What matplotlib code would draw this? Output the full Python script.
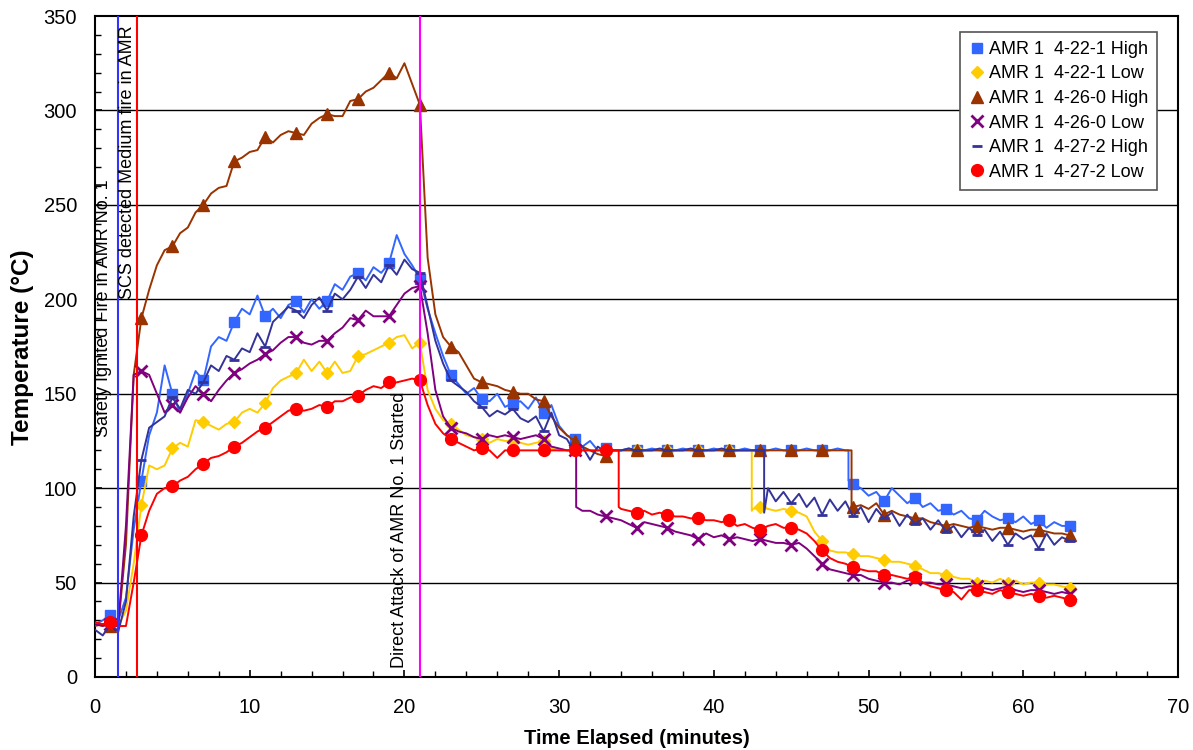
import numpy as np
import matplotlib
matplotlib.use("Agg")
import matplotlib.pyplot as plt
from matplotlib.lines import Line2D

plt.rcParams["font.family"] = ["Liberation Sans", "DejaVu Sans"]

# time axis, readings every half minute (one row = 10 minutes)
time_min = np.arange(0, 63.01, 0.5)

hi_4221 = [28, 30, 33, 30, 42, 78, 104, 128, 140, 165, 150, 140, 150, 162, 157, 175, 180, 178, 188, 195,
           192, 202, 191, 195, 190, 197, 199, 193, 200, 195, 199, 208, 205, 212, 214, 210, 217, 214, 219, 234,
           224, 218, 211, 195, 182, 170, 160, 155, 150, 153, 147, 146, 150, 143, 145, 146, 142, 148, 140, 144,
           133, 128, 126, 122, 125, 120, 121, 120, 120, 121, 120, 120, 121, 120, 120, 120, 121, 120, 120, 120,
           121, 120, 120, 120, 121, 120, 120, 120, 121, 120, 120, 120, 121, 120, 120, 120, 121, 120, 102, 100,
           96, 98, 93, 100, 96, 92, 95, 90, 92, 88, 89, 86, 88, 84, 83, 88, 85, 83, 84, 82,
           85, 81, 83, 79, 82, 80, 80]
lo_4221 = [28, 27, 28, 27, 35, 60, 91, 112, 110, 112, 121, 124, 122, 136, 135, 133, 131, 134, 135, 140,
           142, 140, 145, 153, 157, 159, 161, 168, 162, 167, 161, 167, 161, 162, 170, 171, 173, 175, 177, 180,
           181, 174, 177, 152, 142, 136, 134, 131, 128, 127, 126, 124, 126, 125, 125, 124, 123, 124, 125, 121,
           120, 120, 120, 120, 120, 120, 120, 120, 120, 120, 120, 120, 120, 120, 120, 120, 120, 120, 120, 120,
           120, 120, 120, 120, 120, 89, 90, 89, 88, 89, 88, 87, 85, 77, 72, 67, 66, 66, 65, 64,
           64, 63, 62, 61, 61, 60, 59, 57, 55, 55, 54, 53, 52, 52, 50, 51, 50, 52, 50, 51,
           49, 50, 50, 49, 49, 48, 47]
hi_4260 = [27, 28, 27, 27, 70, 160, 190, 205, 218, 226, 228, 235, 238, 246, 250, 256, 259, 260, 273, 275,
           278, 279, 286, 283, 287, 289, 288, 287, 293, 296, 298, 297, 297, 305, 306, 310, 312, 316, 320, 317,
           325, 314, 303, 222, 192, 180, 175, 172, 165, 158, 156, 155, 154, 152, 151, 150, 150, 147, 146, 138,
           132, 128, 125, 122, 120, 118, 117, 120, 120, 120, 120, 120, 120, 120, 120, 120, 120, 120, 120, 120,
           120, 120, 120, 120, 120, 120, 120, 120, 120, 120, 120, 120, 120, 120, 120, 120, 120, 120, 90, 91,
           89, 92, 86, 88, 86, 85, 84, 84, 82, 81, 80, 81, 80, 79, 80, 79, 78, 79, 79, 78,
           77, 78, 78, 77, 76, 76, 75]
lo_4260 = [28, 27, 28, 27, 80, 160, 162, 160, 150, 140, 144, 140, 148, 154, 150, 146, 152, 157, 161, 163,
           166, 168, 171, 173, 177, 180, 180, 177, 176, 178, 178, 182, 185, 190, 189, 194, 191, 191, 191, 197,
           203, 206, 207, 182, 152, 138, 132, 130, 129, 127, 126, 128, 127, 128, 127, 126, 127, 128, 126, 122,
           121, 120, 120, 88, 88, 86, 85, 84, 83, 81, 79, 82, 81, 80, 79, 77, 76, 75, 73, 76,
           74, 75, 73, 74, 73, 72, 73, 72, 71, 71, 70, 71, 68, 64, 60, 57, 56, 55, 54, 54,
           52, 51, 50, 50, 49, 51, 52, 50, 50, 49, 49, 48, 47, 48, 48, 47, 46, 47, 48, 46,
           45, 46, 46, 45, 44, 45, 44]
hi_4272 = [25, 22, 28, 24, 40, 85, 115, 132, 135, 138, 148, 142, 152, 150, 156, 165, 162, 170, 168, 174,
           172, 182, 175, 188, 192, 196, 194, 190, 197, 201, 194, 203, 200, 205, 212, 206, 213, 209, 218, 213,
           221, 216, 214, 196, 178, 166, 157, 154, 151, 146, 143, 138, 141, 139, 142, 137, 135, 138, 130, 140,
           128, 126, 119, 122, 115, 122, 119, 120, 120, 121, 120, 120, 120, 121, 120, 120, 120, 121, 120, 120,
           120, 121, 120, 120, 120, 120, 120, 100, 93, 98, 92, 97, 90, 95, 86, 94, 88, 93, 85, 90,
           82, 89, 84, 87, 80, 86, 81, 84, 78, 83, 77, 80, 74, 79, 75, 78, 72, 77, 70, 76,
           73, 75, 68, 76, 70, 74, 72]
lo_4272 = [29, 28, 29, 27, 27, 50, 75, 88, 97, 100, 101, 104, 106, 110, 113, 116, 117, 119, 122, 124,
           127, 130, 132, 135, 138, 141, 142, 141, 142, 144, 143, 146, 146, 148, 149, 152, 154, 153, 156, 156,
           157, 158, 157, 144, 134, 129, 126, 124, 122, 120, 121, 120, 116, 120, 120, 120, 120, 120, 120, 120,
           120, 120, 120, 120, 120, 120, 120, 120, 89, 88, 87, 88, 86, 87, 86, 85, 85, 84, 84, 83,
           83, 82, 83, 80, 81, 79, 78, 80, 81, 79, 79, 78, 76, 72, 67, 63, 61, 60, 58, 57,
           56, 56, 54, 54, 53, 52, 53, 50, 48, 47, 46, 45, 41, 46, 46, 45, 44, 46, 45, 44,
           43, 44, 43, 42, 43, 42, 41]

# vertical drops (time, value before, value after)
steps_4221_hi = (48.7, 120, 104)
steps_4221_lo = (42.45, 120, 88)
steps_4260_hi = (48.9, 120, 90)
steps_4260_lo = (31.1, 120, 90)
steps_4272_hi = (43.25, 120, 87)
steps_4272_lo = (33.85, 120, 90)

labels = ["AMR 1  4-22-1 High", "AMR 1  4-22-1 Low", "AMR 1  4-26-0 High",
          "AMR 1  4-26-0 Low", "AMR 1  4-27-2 High", "AMR 1  4-27-2 Low"]
colors = ["#3366FF", "#FFCC00", "#993300", "#800080", "#333399", "#FF0000"]
markers = ["s", "D", "^", "x", "_", "o"]
msizes = [7, 6, 8, 8, 7, 8.5]

event_times = [1.5, 2.7, 21.0]
event_colors = ["#3333FF", "#FF0000", "#FF00FF"]


def add_step(t, v, step):
    ts, vb, va = step
    i = np.searchsorted(t, ts)
    return np.insert(t, i, [ts, ts]), np.insert(np.asarray(v, float), i, [vb, va])


fig = plt.figure(figsize=(11.93, 7.5), dpi=100)
ax = fig.add_axes([95 / 1193, 1 - 677 / 750, (1178 - 95) / 1193, (677 - 16) / 750])

for y in range(50, 350, 50):
    ax.axhline(y, color="black", lw=1.0, zorder=1)

all_series = [hi_4221, lo_4221, hi_4260, lo_4260, hi_4272, lo_4272]
all_steps = [steps_4221_hi, steps_4221_lo, steps_4260_hi, steps_4260_lo, steps_4272_hi, steps_4272_lo]
handles = []
for vals, st, lab, c, m, ms in zip(all_series, all_steps, labels, colors, markers, msizes):
    t, v = add_step(time_min, vals, st)
    idx = [int(np.argmax(np.isclose(t, k))) for k in range(1, 64, 2)]
    mew = 2 if m in ("x", "_") else 1
    ax.plot(t, v, color=c, lw=1.4, marker=m, markersize=ms, markevery=idx,
            markeredgewidth=mew, markerfacecolor=c, markeredgecolor=c, zorder=3)
    handles.append(Line2D([], [], ls="none", marker=m, color=c, markersize=ms,
                          markeredgewidth=mew, label=lab))

for xv, c in zip(event_times, event_colors):
    ax.axvline(xv, color=c, lw=1.5, zorder=4)

ax.text(0.52, 127, "Safety Ignited Fire in AMR No. 1", rotation=90, ha="center", va="bottom",
        fontsize=13, zorder=5)
ax.text(2.07, 200, "SCS detected Medium fire in AMR", rotation=90, ha="center", va="bottom",
        fontsize=13, zorder=5)
ax.text(19.7, 5, "Direct Attack of AMR No. 1 Started", rotation=90, ha="center", va="bottom",
        fontsize=13, zorder=5)

ax.set_xlim(0, 70)
ax.set_ylim(0, 350)
ax.set_xticks(range(0, 71, 10))
ax.set_xticks(range(0, 71, 2), minor=True)
ax.set_yticks(range(0, 351, 50))
ax.set_yticks(range(0, 351, 10), minor=True)
ax.tick_params(which="both", direction="in", labelsize=14.5)
ax.tick_params(which="major", length=5, width=1.2)
ax.tick_params(axis="x", which="major", pad=15)
ax.tick_params(axis="y", which="major", pad=13)
ax.tick_params(which="minor", length=4, width=1)
for s in ax.spines.values():
    s.set_linewidth(1.5)

fig.text(23 / 1193, 1 - 347 / 750, "Temperature (°C)", rotation=90, ha="center", va="center",
         fontsize=17.5, fontweight="bold")
fig.text(637 / 1193, 1 - 738 / 750, "Time Elapsed (minutes)", ha="center", va="center",
         fontsize=14.5, fontweight="bold")

leg = ax.legend(handles=handles, loc="upper right", bbox_to_anchor=(0.981, 0.976), fontsize=13,
                frameon=True, fancybox=False, framealpha=1, edgecolor="#555555",
                handlelength=0.8, handletextpad=0.3, labelspacing=0.42, borderpad=0.5,
                borderaxespad=0)
leg.get_frame().set_linewidth(1.2)
leg.set_zorder(6)

fig.savefig("out.png", dpi=100)
